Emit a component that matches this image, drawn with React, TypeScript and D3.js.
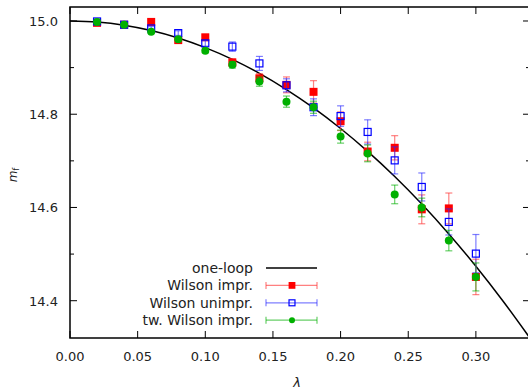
import React from "react";
import * as d3 from "d3";

const lambdas = [0.02, 0.04, 0.06, 0.08, 0.1, 0.12, 0.14, 0.16, 0.18, 0.2, 0.22, 0.24, 0.26, 0.28, 0.3];

const wilsonImpr = [14.996, 14.992, 14.998, 14.959, 14.965, 14.911, 14.877, 14.863, 14.848, 14.785, 14.72, 14.728, 14.596, 14.598, 14.451];
const wilsonImprErr = [0.003, 0.003, 0.004, 0.004, 0.005, 0.008, 0.01, 0.017, 0.024, 0.02, 0.02, 0.026, 0.031, 0.033, 0.038];

const wilsonUnimpr = [14.999, 14.992, 14.984, 14.974, 14.952, 14.945, 14.909, 14.862, 14.815, 14.796, 14.762, 14.701, 14.644, 14.569, 14.501];
const wilsonUnimprErr = [0.003, 0.003, 0.004, 0.005, 0.006, 0.01, 0.015, 0.014, 0.018, 0.022, 0.026, 0.029, 0.03, 0.028, 0.041];

const twWilson = [14.998, 14.992, 14.977, 14.961, 14.936, 14.906, 14.87, 14.827, 14.815, 14.752, 14.716, 14.628, 14.6, 14.529, 14.451];
const twWilsonErr = [0.002, 0.002, 0.003, 0.003, 0.004, 0.007, 0.01, 0.012, 0.013, 0.014, 0.018, 0.02, 0.02, 0.022, 0.03];

const curveLambda = [0, 0.02, 0.04, 0.06, 0.08, 0.1, 0.12, 0.14, 0.16, 0.18, 0.2, 0.22, 0.24, 0.26, 0.28, 0.3, 0.32, 0.34];
const curveM = [15.0, 14.9977, 14.9909, 14.9795, 14.9635, 14.9428, 14.9176, 14.8877, 14.853, 14.8136, 14.7694, 14.7204, 14.6664, 14.6074, 14.5433, 14.474, 14.3995, 14.3197];

const xTicks = [0, 0.05, 0.1, 0.15, 0.2, 0.25, 0.3];
const yMajor = [14.4, 14.6, 14.8, 15.0];
const yMinor = [14.5, 14.7, 14.9];

const legendLabels = ["one-loop", "Wilson impr.", "Wilson unimpr.", "tw. Wilson impr."];

const W = 528, H = 389;
const L = 70, R = 530, T = 7, B = 338;
const font = "DejaVu Sans, sans-serif";

export default function App() {
  const x = d3.scaleLinear().domain([0, 0.34]).range([L, R]);
  const y = d3.scaleLinear().domain([14.32, 15.03]).range([B, T]);
  const line = d3.line<number>().x((_, i) => x(curveLambda[i])).y((d) => y(d)).curve(d3.curveCatmullRom);

  const series = [
    { vals: wilsonImpr, errs: wilsonImprErr, color: "#ff0000", bar: "rgba(255,60,60,0.65)", type: "fsq" },
    { vals: wilsonUnimpr, errs: wilsonUnimprErr, color: "#0000ff", bar: "rgba(40,40,255,0.6)", type: "osq" },
    { vals: twWilson, errs: twWilsonErr, color: "#00b000", bar: "rgba(0,175,0,0.6)", type: "circ" },
  ];

  const marker = (type: string, cx: number, cy: number, color: string, key: any, s = 1) => {
    if (type === "fsq") return <rect key={key} x={cx - 4 * s} y={cy - 4 * s} width={8 * s} height={8 * s} fill={color} />;
    if (type === "osq") return <rect key={key} x={cx - 3.5 * s} y={cy - 3.5 * s} width={7 * s} height={7 * s} fill="none" stroke={color} strokeWidth={1.2} />;
    return <circle key={key} cx={cx} cy={cy} r={4 * s} fill={color} />;
  };

  const cap = 3.5;
  const legX = 253, legY0 = 268, legDy = 17.4, ls = 266, le = 317, lm = 292;

  return (
    <svg width={W} height={H} style={{ position: "absolute", left: 0, top: 0 }} fontFamily={font}>
      <rect width={W} height={H} fill="#fff" />
      <defs>
        <clipPath id="plot"><rect x={L} y={T} width={R - L} height={B - T} /></clipPath>
      </defs>
      <path d={line(curveM) || ""} fill="none" stroke="#000" strokeWidth={1.5} clipPath="url(#plot)" />
      {series.map((s, si) => (
        <g key={si}>
          {lambdas.map((l, i) => {
            const cx = x(l), cy = y(s.vals[i]);
            const y1 = y(s.vals[i] + s.errs[i]), y2 = y(s.vals[i] - s.errs[i]);
            return (
              <g key={i} stroke={s.bar} strokeWidth={1.2}>
                <line x1={cx} x2={cx} y1={y1} y2={y2} />
                <line x1={cx - cap} x2={cx + cap} y1={y1} y2={y1} />
                <line x1={cx - cap} x2={cx + cap} y1={y2} y2={y2} />
              </g>
            );
          })}
          {lambdas.map((l, i) => marker(s.type, x(l), y(s.vals[i]), s.color, i))}
        </g>
      ))}
      <rect x={L} y={T} width={R - L} height={B - T} fill="none" stroke="#000" strokeWidth={1.5} />
      {xTicks.map((t, i) => (
        <g key={i}>
          <line x1={x(t)} x2={x(t)} y1={B} y2={B - 7} stroke="#000" strokeWidth={1} />
          <line x1={x(t)} x2={x(t)} y1={T} y2={T + 7} stroke="#000" strokeWidth={1} />
          <text x={x(t)} y={361} textAnchor="middle" fontSize={13} fill="#222">{t.toFixed(2)}</text>
        </g>
      ))}
      {yMajor.map((t, i) => (
        <g key={i}>
          <line x1={L} x2={L + 7} y1={y(t)} y2={y(t)} stroke="#000" strokeWidth={1} />
          <line x1={R} x2={R - 7} y1={y(t)} y2={y(t)} stroke="#000" strokeWidth={1} />
          <text x={58} y={y(t) + 5} textAnchor="end" fontSize={13} fill="#222">{t.toFixed(1)}</text>
        </g>
      ))}
      {yMinor.map((t, i) => (
        <g key={i}>
          <line x1={L} x2={L + 4} y1={y(t)} y2={y(t)} stroke="#000" strokeWidth={1} />
          <line x1={R} x2={R - 4} y1={y(t)} y2={y(t)} stroke="#000" strokeWidth={1} />
        </g>
      ))}
      <text x={297} y={387} textAnchor="middle" fontSize={13} fontStyle="italic" fill="#222">λ</text>
      <text transform="translate(17,175) rotate(-90)" textAnchor="middle" fontSize={12} fill="#222">
        <tspan fontStyle="italic">m</tspan><tspan fontSize={8} dy={2}>f</tspan>
      </text>
      {legendLabels.map((lab, i) => (
        <text key={i} x={legX} y={legY0 + i * legDy + 5} textAnchor="end" fontSize={14} fill="#222">{lab}</text>
      ))}
      <line x1={ls} x2={le} y1={legY0} y2={legY0} stroke="#000" strokeWidth={1.5} />
      {series.map((s, si) => {
        const ly = legY0 + (si + 1) * legDy;
        return (
          <g key={si}>
            <g stroke={s.bar} strokeWidth={1.2}>
              <line x1={ls} x2={le} y1={ly} y2={ly} />
              <line x1={ls} x2={ls} y1={ly - 3.5} y2={ly + 3.5} />
              <line x1={le} x2={le} y1={ly - 3.5} y2={ly + 3.5} />
            </g>
            {marker(s.type, lm, ly, s.color, "m", si === 2 ? 0.75 : 0.85)}
          </g>
        );
      })}
    </svg>
  );
}
